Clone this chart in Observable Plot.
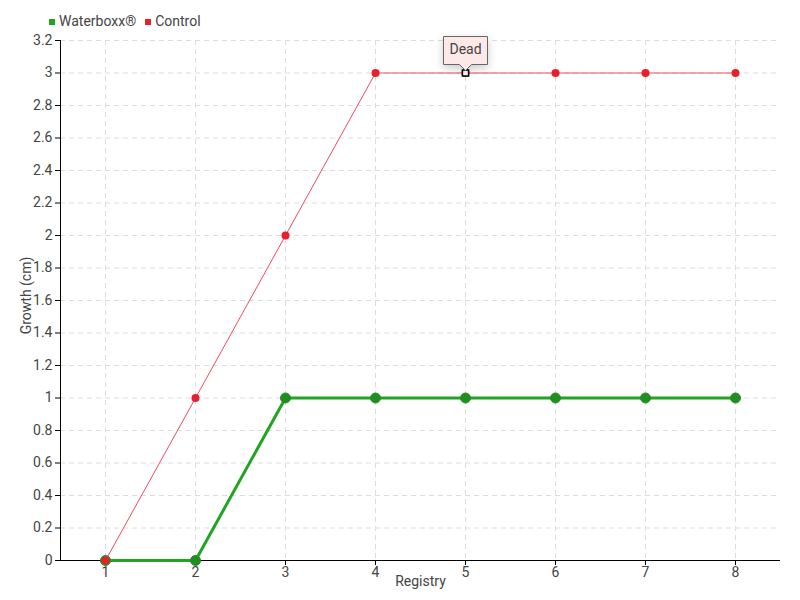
<!DOCTYPE html>
<html>
<head>
<meta charset="utf-8">
<script src="https://cdn.jsdelivr.net/npm/d3@7"></script>
<script src="https://cdn.jsdelivr.net/npm/@observablehq/plot@0.6"></script>
<style>
  body { margin: 0; background: #fff; }
  #wrap { position: relative; width: 800px; height: 600px; font-family: Roboto, sans-serif; }
  #legend { position: absolute; top: 13px; left: 49px; font-size: 14px; color: #444; display: flex; gap: 9px; align-items: center; }
  #legend span.sw { display: inline-block; width: 6px; height: 6px; margin-right: 4px; vertical-align: middle; }
</style>
</head>
<body>
<div id="wrap">
  <div id="legend"></div>
</div>
<script>
const registry = [1, 2, 3, 4, 5, 6, 7, 8];
const waterboxx = [0, 0, 1, 1, 1, 1, 1, 1];
const control = [0, 1, 2, 3, 3, 3, 3, 3];
const yTicks = [0, 0.2, 0.4, 0.6, 0.8, 1, 1.2, 1.4, 1.6, 1.8, 2, 2.2, 2.4, 2.6, 2.8, 3, 3.2];
const seriesNames = ["Waterboxx®", "Control"];
const seriesColors = ["#22a322", "#e8202e"];
const annotation = {x: 5, y: 3, text: "Dead"};

const wData = registry.map((r, i) => ({x: r, y: waterboxx[i]}));
const cData = registry.map((r, i) => ({x: r, y: control[i]}));

const legend = document.getElementById("legend");
legend.innerHTML = seriesNames.map((n, i) =>
  `<span><span class="sw" style="background:${seriesColors[i]}"></span>${n}</span>`).join("");

const fmt = d => String(+(+d).toFixed(1));

const chart = Plot.plot({
  width: 800,
  height: 600,
  marginTop: 40,
  marginBottom: 40,
  marginLeft: 60,
  marginRight: 20,
  style: {fontFamily: 'Roboto, sans-serif', fontSize: "14px", color: "#444", background: "#fff"},
  x: {domain: [0.5, 8.5], label: null},
  y: {domain: [0, 3.2], label: null},
  marks: [
    Plot.gridX(registry, {stroke: "#ddd", strokeOpacity: 1, strokeDasharray: "5,4"}),
    Plot.gridY(yTicks, {stroke: "#ddd", strokeOpacity: 1, strokeDasharray: "5,4"}),
    Plot.axisX(registry, {tickSize: 5, tickPadding: 2, fill: "#444", stroke: "#000", tickFormat: fmt, fontSize: 14}),
    Plot.axisY(yTicks, {tickSize: 5, tickPadding: 3, fill: "#444", stroke: "#000", tickFormat: fmt, fontSize: 14}),
    Plot.ruleX([0.5], {stroke: "#000"}),
    Plot.ruleY([0], {stroke: "#000"}),
    Plot.text(["Registry"], {frameAnchor: "bottom", lineAnchor: "middle", dy: 21, fill: "#444", fontSize: 14}),
    Plot.text(["Growth (cm)"], {frameAnchor: "left", dx: -34, dy: -5, rotate: -90, textAnchor: "middle", fill: "#444", fontSize: 14}),
    Plot.line(wData, {x: "x", y: "y", stroke: seriesColors[0], strokeWidth: 3}),
    Plot.dot(wData, {x: "x", y: "y", r: 5, fill: "#1f901f", stroke: "#2a8a2a", strokeWidth: 1}),
    Plot.line(cData, {x: "x", y: "y", stroke: "#f24a60", strokeWidth: 1}),
    Plot.dot(cData, {x: "x", y: "y", r: 4, fill: seriesColors[1], stroke: "none"}),
    Plot.dot([annotation], {x: "x", y: "y", symbol: "square", r: 3.5, fill: "#fff", stroke: "#000", strokeWidth: 1.5}),
    Plot.tip([annotation], {x: "x", y: "y", title: "text", anchor: "bottom", dy: -3, fill: "#fde8e8", stroke: "#666", fontSize: 14, textPadding: 6})
  ]
});
document.getElementById("wrap").appendChild(chart);
</script>
</body>
</html>
